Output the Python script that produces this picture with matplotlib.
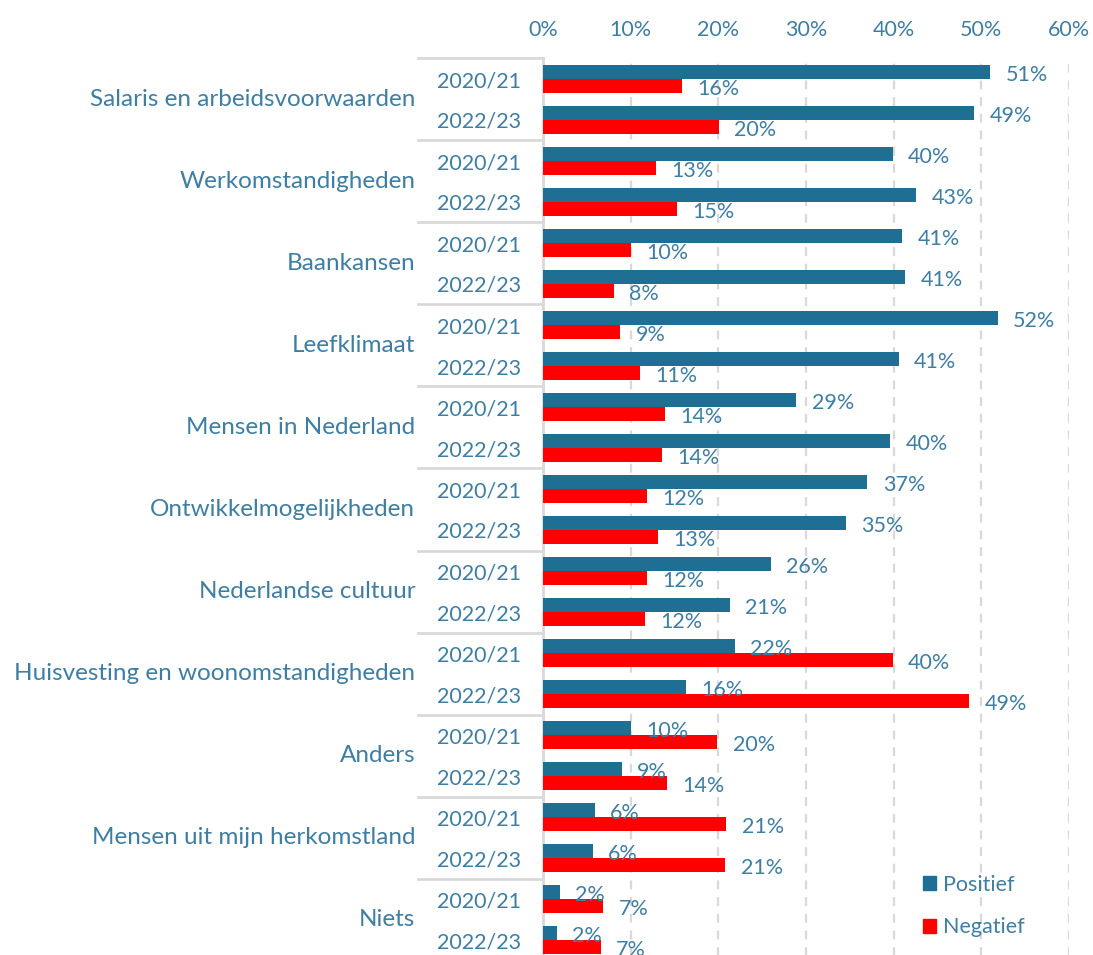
import matplotlib
matplotlib.use("Agg")
import matplotlib.pyplot as plt
from matplotlib.patches import Patch
from matplotlib.transforms import blended_transform_factory

# data (percent)
categories = [
    "Salaris en arbeidsvoorwaarden",
    "Werkomstandigheden",
    "Baankansen",
    "Leefklimaat",
    "Mensen in Nederland",
    "Ontwikkelmogelijkheden",
    "Nederlandse cultuur",
    "Huisvesting en woonomstandigheden",
    "Anders",
    "Mensen uit mijn herkomstland",
    "Niets",
]
years = ["2020/21", "2022/23"]
positief = [51.0, 49.2, 39.9, 42.6, 41.0, 41.3, 51.9, 40.6, 28.9, 39.6, 37.0, 34.6,
            26.0, 21.3, 21.9, 16.3, 10.0, 9.0, 5.9, 5.7, 1.9, 1.6]
negatief = [15.9, 20.1, 12.9, 15.3, 10.0, 8.1, 8.8, 11.1, 13.9, 13.6, 11.9, 13.1,
            11.9, 11.6, 39.9, 48.6, 19.9, 14.1, 20.9, 20.8, 6.9, 6.6]
xticks = [0, 10, 20, 30, 40, 50, 60]

BLUE = "#1F6E94"
RED = "#FF0000"
TEXT = "#3E7EA3"
GREY = "#D9D9D9"

plt.rcParams["font.family"] = ["Lato", "DejaVu Sans"]
FS = 15.5

fig = plt.figure(figsize=(10.93, 9.55), dpi=100)
ax = fig.add_axes([543 / 1093, -5.5 / 955, 526 / 1093, 902 / 955])

n = len(positief)
rows = list(range(n))
ax.barh([r - 0.17 for r in rows], positief, height=0.34, color=BLUE, zorder=3)
ax.barh([r + 0.17 for r in rows], negatief, height=0.34, color=RED, zorder=3)

for r, v in zip(rows, positief):
    ax.annotate(f"{v:.0f}%", (v, r - 0.17), xytext=(11, -2), textcoords="offset points",
                va="center", ha="left", color=TEXT, fontsize=FS, zorder=4)
for r, v in zip(rows, negatief):
    ax.annotate(f"{v:.0f}%", (v, r + 0.17), xytext=(11, -2), textcoords="offset points",
                va="center", ha="left", color=TEXT, fontsize=FS, zorder=4)

ax.set_xlim(0, 60)
ax.set_ylim(n - 0.5, -0.5)
ax.xaxis.tick_top()
ax.set_xticks(xticks)
ax.set_xticklabels([f"{t}%" for t in xticks])
ax.tick_params(axis="x", length=0, pad=13, labelsize=FS, labelcolor=TEXT)
ax.set_yticks(rows)
ax.set_yticklabels([years[r % 2] for r in rows])
ax.tick_params(axis="y", length=0, pad=16, labelsize=FS, labelcolor=TEXT)

ax.grid(axis="x", color=GREY, linewidth=1.6, linestyle=(0, (4, 3.5)))
ax.set_axisbelow(True)
for side in ["top", "right", "bottom"]:
    ax.spines[side].set_visible(False)
ax.spines["left"].set_color(GREY)
ax.spines["left"].set_linewidth(2)

# group labels and separators on the left
trans = blended_transform_factory(ax.transAxes, ax.transData)
for i, cat in enumerate(categories):
    ax.text(-0.243, 2 * i + 0.5, cat, transform=trans, ha="right", va="center",
            color=TEXT, fontsize=17.5)
    ax.plot([-0.238, 0], [2 * i - 0.5, 2 * i - 0.5], transform=trans, color=GREY,
            linewidth=2, clip_on=False)

handles = [Patch(color=BLUE, label="Positief"), Patch(color=RED, label="Negatief")]
leg = fig.legend(handles=handles, loc="upper left", bbox_to_anchor=(912 / 1093, 1 - 864 / 955),
                 frameon=False, fontsize=FS, handlelength=0.6, handleheight=0.6,
                 handletextpad=0.35, labelspacing=1.05, borderpad=0)
for t in leg.get_texts():
    t.set_color(TEXT)

fig.savefig("out.png", dpi=100)
